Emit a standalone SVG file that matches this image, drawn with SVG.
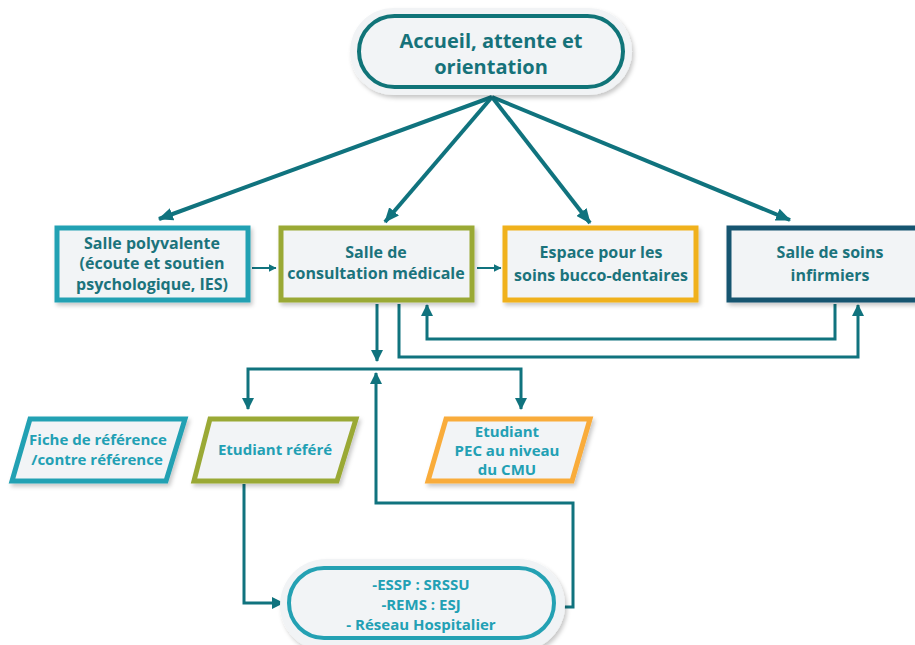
<svg xmlns="http://www.w3.org/2000/svg" width="915" height="645" viewBox="0 0 915 645">
<defs>
<filter id="sh" x="-10%" y="-10%" width="130%" height="140%">
<feDropShadow dx="2" dy="3" stdDeviation="2" flood-color="#000" flood-opacity="0.22"/>
</filter>
<marker id="ab" viewBox="0 0 14 12" refX="13" refY="6" markerWidth="15" markerHeight="13" markerUnits="userSpaceOnUse" orient="auto">
<path d="M0,0 L14,6 L0,12 z" fill="#10737e"/>
</marker>
<marker id="am" viewBox="0 0 12 12" refX="11" refY="6" markerWidth="12" markerHeight="13" markerUnits="userSpaceOnUse" orient="auto">
<path d="M0,0 L12,6 L0,12 z" fill="#10737e"/>
</marker>
<marker id="as" viewBox="0 0 8 8" refX="7.5" refY="4" markerWidth="8" markerHeight="8" markerUnits="userSpaceOnUse" orient="auto">
<path d="M0,0 L8,4 L0,8 z" fill="#10737e"/>
</marker>
</defs>
<style>
text{font-family:"Open Sans","Liberation Sans",sans-serif;font-weight:700;text-anchor:middle}
.box{fill:#f2f4f6;stroke-width:5;filter:url(#sh)}
.t1{fill:#1b737c;font-size:16px}
.t2{fill:#22a0b4;font-size:15px}
.halo{fill:#f1f3f5;filter:url(#sh)}
.c{fill:none;stroke:#10737e;stroke-linejoin:miter}
.c4{stroke-width:4}
.c3{stroke-width:3}
.c2{stroke-width:2}
</style>

<g id="connectors">
<path class="c c4" d="M492,97 L159,219" marker-end="url(#ab)"/>
<path class="c c4" d="M492,97 L385,222" marker-end="url(#ab)"/>
<path class="c c4" d="M492,97 L590,223" marker-end="url(#ab)"/>
<path class="c c4" d="M492,97 L790,220" marker-end="url(#ab)"/>
<path class="c c2" d="M252,268 L276,268" marker-end="url(#as)"/>
<path class="c c2" d="M477,268 L501,268" marker-end="url(#as)"/>
<path class="c c3" d="M377,304 L377,361" marker-end="url(#am)"/>
<path class="c c3" d="M399,304 V357 H858 V305" marker-end="url(#am)"/>
<path class="c c3" d="M835,304 V339 H427 V305" marker-end="url(#am)"/>
<path class="c c3" d="M377,369 H248 V409" marker-end="url(#am)"/>
<path class="c c3" d="M377,369 H521 V409" marker-end="url(#am)"/>
<path class="c c3" d="M556,607 H573 V503 H376 V373" marker-end="url(#am)"/>
<path class="c c3" d="M244,484 V603 H283" marker-end="url(#am)"/>
</g>

<g id="accueil">
<rect class="halo" x="350" y="8" width="282" height="87" rx="43.5"/>
<rect x="359" y="16" width="264" height="71" rx="35.5" fill="#f2f4f6" stroke="#107478" stroke-width="4"/>
<text x="491" y="48" style="font-size:20px" fill="#16727a">Accueil, attente et</text>
<text x="491" y="74" style="font-size:20px" fill="#16727a">orientation</text>
</g>

<g id="salle-polyvalente">
<rect class="box" x="57" y="228" width="191" height="72" stroke="#24a1b3"/>
<text class="t1" x="152" y="249">Salle polyvalente</text>
<text class="t1" x="152" y="269">(écoute et soutien</text>
<text class="t1" x="152" y="290">psychologique, IES)</text>
</g>

<g id="consultation">
<rect class="box" x="281" y="228" width="191" height="72" stroke="#9aa935"/>
<text class="t1" x="376" y="258">Salle de</text>
<text class="t1" x="376" y="279">consultation médicale</text>
</g>

<g id="bucco">
<rect class="box" x="505" y="228" width="191" height="72" stroke="#f0b11d"/>
<text class="t1" x="601" y="258">Espace pour les</text>
<text class="t1" x="601" y="281">soins bucco-dentaires</text>
</g>

<g id="infirmiers">
<rect class="box" x="729" y="228" width="200" height="72" stroke="#175570" stroke-width="6"/>
<text class="t1" x="830" y="258">Salle de soins</text>
<text class="t1" x="830" y="281">infirmiers</text>
</g>

<g id="fiche">
<polygon class="box" points="30,419 185,419 166,481 12,481" stroke="#24a1b3" stroke-width="2.5"/>
<text class="t2" x="98" y="445">Fiche de référence</text>
<text class="t2" x="97" y="465">/contre référence</text>
</g>

<g id="etudiant-refere">
<polygon class="box" points="210,419 356,419 337,481 194,481" stroke="#9aa935" stroke-width="2.5"/>
<text class="t2" x="275" y="455">Etudiant référé</text>
</g>

<g id="etudiant-pec">
<polygon class="box" points="446,419 590,419 572,481 428,481" stroke="#f9ac3b" stroke-width="2.5"/>
<text class="t2" x="507" y="437">Etudiant</text>
<text class="t2" x="507" y="456">PEC au niveau</text>
<text class="t2" x="507" y="475">du CMU</text>
</g>

<g id="reseau">
<rect class="halo" x="280" y="559" width="285" height="92" rx="46"/>
<rect x="289" y="568" width="265" height="70" rx="35" fill="#f2f4f6" stroke="#24a1b3" stroke-width="4"/>
<text class="t2" x="421" y="590">-ESSP : SRSSU</text>
<text class="t2" x="421" y="610">-REMS : ESJ</text>
<text class="t2" x="421" y="630">- Réseau Hospitalier</text>
</g>
</svg>
